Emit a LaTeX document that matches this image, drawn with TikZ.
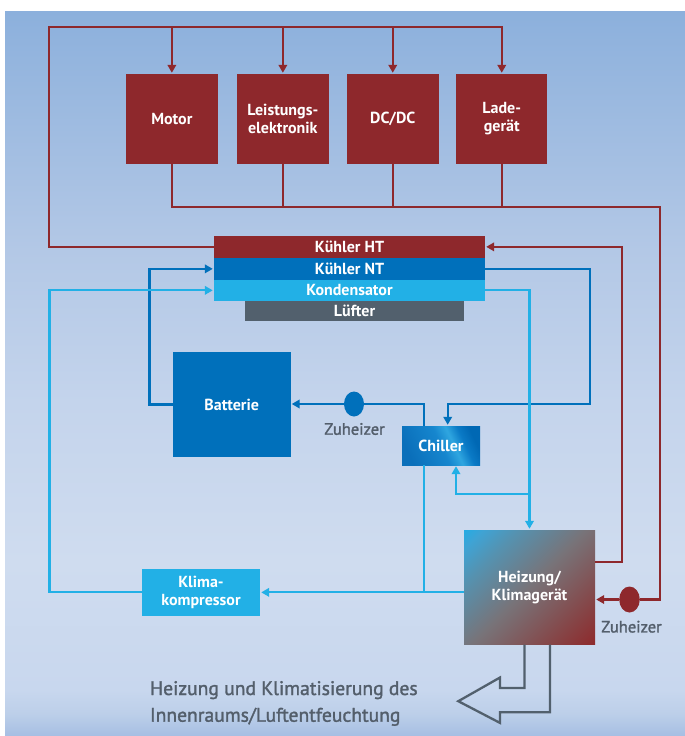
\documentclass[tikz,border=0pt]{standalone}
\usepackage{fontspec}
\setmainfont{PT Sans}
\newfontfamily\graytxtfont{PT Sans}[FakeBold=1.6]
\usetikzlibrary{arrows.meta,shapes.geometric}
\definecolor{dred}{HTML}{8E282C}
\definecolor{dblue}{HTML}{0070BB}
\definecolor{lblue}{HTML}{22B0E6}
\definecolor{slate}{HTML}{52606D}
\definecolor{txtgray}{HTML}{535E6B}
\definecolor{bgT}{HTML}{8CB0DC}
\definecolor{bgA}{HTML}{B3C8E6}
\definecolor{bgM}{HTML}{C4D4EC}
\definecolor{bgL}{HTML}{CFDCEF}
\definecolor{bgN}{HTML}{C8D7EE}
\definecolor{bgO}{HTML}{BCCFE9}
\definecolor{bgB}{HTML}{A6BEE3}
\definecolor{hzA}{HTML}{26ABE3}
\definecolor{hzB}{HTML}{3FA3D4}
\definecolor{hzC}{HTML}{5592B0}
\definecolor{hzD}{HTML}{787378}
\definecolor{hzE}{HTML}{844A4C}
\definecolor{hzF}{HTML}{8E2A2C}
\definecolor{chA}{HTML}{0A6FBA}
\definecolor{chB}{HTML}{1686CE}
\definecolor{chC}{HTML}{2FA6E0}
\definecolor{chD}{HTML}{0A7AC6}
\definecolor{chE}{HTML}{0068B4}
\pgfdeclareverticalshading{bgshade}{100bp}{color(0bp)=(bgB); color(25bp)=(bgB); color(26.5bp)=(bgO); color(28.2bp)=(bgN); color(37bp)=(bgL); color(48bp)=(bgM); color(58.5bp)=(bgA); color(75bp)=(bgT); color(100bp)=(bgT)}
\pgfdeclarehorizontalshading{heizshade}{100bp}{color(0bp)=(hzA); color(14.6bp)=(hzA); color(20bp)=(hzB); color(30bp)=(hzC); color(50bp)=(hzD); color(70bp)=(hzE); color(85.4bp)=(hzF); color(100bp)=(hzF)}
\pgfdeclarehorizontalshading{chillshade}{100bp}{color(0bp)=(chA); color(25bp)=(chA); color(50bp)=(chB); color(59bp)=(chC); color(67bp)=(chD); color(75bp)=(chE); color(100bp)=(chE)}
\tikzset{
  box/.style={fill=#1, text=white, font=\bfseries\fontsize{16}{18.5}\selectfont, align=center, inner sep=0pt, draw=none},
  lbl/.style={text=txtgray, font=\graytxtfont\fontsize{16.5}{19}\selectfont, inner sep=0pt},
  bigtxt/.style={text=txtgray, font=\graytxtfont\fontsize{19.6}{26.7}\selectfont, inner sep=0pt, anchor=base west},
  heat/.style={ellipse, fill=#1, inner sep=0pt, draw=none},
  rline/.style={draw=dred, line width=2.2pt},
  bline/.style={draw=dblue, line width=2.2pt},
  lline/.style={draw=lblue, line width=2.2pt},
  gline/.style={draw=slate, line width=2.3pt, line join=miter},
  arr/.style={-{Triangle[length=8pt,width=8.5pt]}, shorten >=1pt},
}
\begin{document}
\begin{tikzpicture}[x=1pt,y=-1pt]
\useasboundingbox (0,0) rectangle (685,736);
\fill[white] (0,0) rectangle (685,736);
\shade[shading=bgshade] (5,11) rectangle (685,736);

% boxes
\node[box=dred, minimum width=91.7, minimum height=89.5] (motor) at (171.85,118.75) {Motor};
\node[box=dred, minimum width=91.3, minimum height=89.5] (leist) at (282.85,118.75) {Leistungs-\\elektronik};
\node[box=dred, minimum width=91.7, minimum height=89.5] (dcdc) at (392.75,118.75) {DC/DC};
\node[box=dred, minimum width=91.3, minimum height=89.5] (lade) at (501.75,118.75) {Lade-\\gerät};
\node[box=dred, minimum width=271, minimum height=21.7] (HT) at (349.5,246.85) {Kühler HT};
\node[box=dblue, minimum width=271, minimum height=22.3] (NT) at (349.5,268.85) {Kühler NT};
\node[box=lblue, minimum width=271, minimum height=20.7] (kond) at (349.5,290.35) {Kondensator};
\node[box=slate, minimum width=219, minimum height=20] (luft) at (354.5,310.7) {Lüfter};
\node[box=dblue, minimum width=117.5, minimum height=104.4] (batt) at (231.75,404.5) {Batterie};
\node[box=dblue, shade, shading=chillshade, shading angle=25, minimum width=78, minimum height=39] (chiller) at (441,445.5) {Chiller};
\node[box=lblue, minimum width=118, minimum height=46.7] (komp) at (201,592.35) {Klima-\\kompressor};
\node[box=dred, shade, shading=heizshade, shading angle=-45, minimum width=131, minimum height=114.5] (heiz) at (529.5,587.25) {Heizung/\\Klimagerät};
\node[heat=dblue, minimum width=20, minimum height=25] (zh1) at (354,404) {};
\node[heat=dred, minimum width=20.6, minimum height=26] (zh2) at (629.5,599.5) {};
\node[lbl] (zl1) at (354.5,429) {Zuheizer};
\node[lbl] (zl2) at (631.5,626.7) {Zuheizer};
\node[bigtxt] (bt1) at (149.8,695) {Heizung und Klimatisierung des};
\node[bigtxt] (bt2) at (149.8,721.7) {Innenraums/Luftentfeuchtung};

% red circuit
\coordinate (tl) at (49.3,27.3);
\coordinate (br2) at (659.7,207.3);
\coordinate (rx) at (622.3,0);
\draw[rline,arr] (HT.west) -| (tl) -| (lade.north);
\foreach \b in {motor,leist,dcdc} \draw[rline,arr] (\b.north |- tl) -- (\b.north);
\draw[rline] (motor.south) |- (br2) |- (zh2.east);
\foreach \b in {leist,dcdc,lade} \draw[rline] (\b.south) -- (\b.south |- br2);
\draw[rline,arr] (zh2.west) -- (zh2.west -| heiz.east);
\draw[rline,arr] ([yshift=25.5pt]heiz.east) -| (rx |- HT.east) -- (HT.east);

% dark blue circuit
\coordinate (bx) at (149.4,0);
\coordinate (ex) at (589.8,0);
\coordinate (ey) at (0,404);
\draw[bline,arr] (batt.west) -| (bx |- NT.west) -- (NT.west);
\draw[bline,arr] (NT.east) -| (ex |- ey) -| ([xshift=6.7pt]chiller.north);
\draw[bline] ([xshift=-17pt]chiller.north) |- (zh1.east);
\draw[bline,arr] (zh1.west) -- (zh1.west -| batt.east);

% light blue circuit
\coordinate (kx) at (49.4,0);
\draw[lline,arr] (komp.west) -| (kx |- kond.west) -- (kond.west);
\draw[lline,arr] (kond.east) -| (heiz.north);
\path (heiz.north) ++(0,-36) coordinate (br);
\draw[lline,arr] (br) -| ([xshift=15pt]chiller.south);
\draw[lline,arr] (heiz.west |- komp.east) -- (komp.east);
\draw[lline] ([xshift=-17pt]chiller.south) -- ([xshift=-17pt]chiller.south |- komp.east);

% output arrow
\draw[gline] ([xshift=-5pt]heiz.south) -- ++(0,43.2) -- ++(-24.5,0) -- ++(0,-10.4) -- ++(-41.7,23.7) -- ++(41.7,21.7) -- ++(0,-10.7) -- ++(50,0) -- ([xshift=20.5pt]heiz.south);
\end{tikzpicture}
\end{document}
